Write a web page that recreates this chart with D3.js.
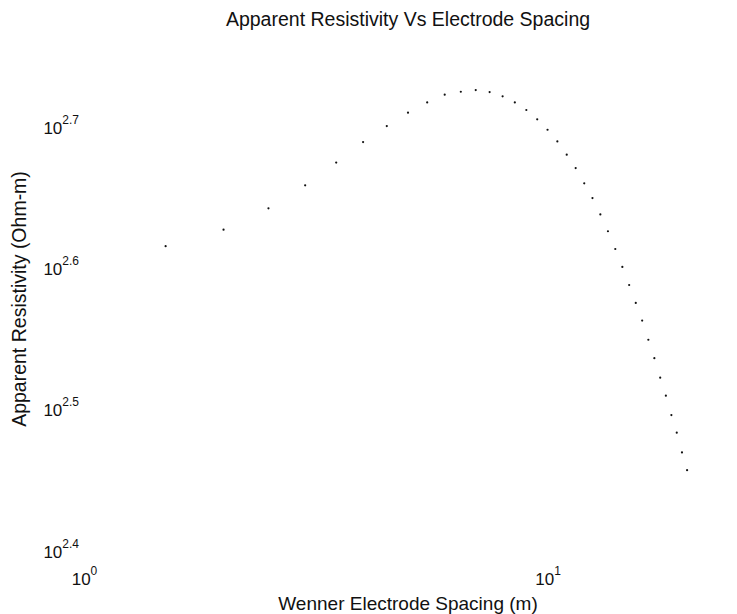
<!DOCTYPE html>
<html>
<head>
<meta charset="utf-8">
<script src="https://cdn.jsdelivr.net/npm/d3@7"></script>
<style>
  body { margin: 0; background: #fff; }
  text { font-family: "Liberation Sans", Arial, sans-serif; fill: #111; }
</style>
</head>
<body>
<div id="chart"></div>
<script>
// electrode spacing (m) and apparent resistivity (Ohm-m)
const spacing = [1.5, 2, 2.5, 3, 3.5, 4, 4.5, 5, 5.5, 6, 6.5, 7, 7.5, 8, 8.5, 9, 9.5, 10,
  10.5, 11, 11.5, 12, 12.5, 13, 13.5, 14, 14.5, 15, 15.5, 16, 16.5, 17, 17.5, 18, 18.5, 19, 19.5, 20];
const resistivity = [410.3, 421.5, 436.4, 453.1, 470.2, 486.2, 499.1, 510.1, 518.7, 525.3, 527.8,
  529.2, 527.5, 523.9, 518.7, 512.3, 504.6, 496.1, 486.7, 476.3, 466.0, 454.6, 443.8, 432.1,
  420.4, 408.4, 396.6, 385.1, 374.0, 363.4, 352.2, 341.8, 331.1, 321.5, 311.5, 302.7, 293.1, 284.7];
const xTickExp = [0, 1];
const yTickExp = [2.4, 2.5, 2.6, 2.7];
const xLimits = [1, 25];
const yLimits = [Math.pow(10, 2.4), Math.pow(10, 2.757)];

const width = 737, height = 614;
const margin = {top: 43, right: 5, bottom: 67, left: 84};

const svg = d3.select('#chart')
  .append('svg')
    .attr('width', width)
    .attr('height', height);

const x = d3.scaleLog()
  .domain(xLimits)
  .range([margin.left, width - margin.right]);

const y = d3.scaleLog()
  .domain(yLimits)
  .range([height - margin.bottom, margin.top]);

// tick labels as 10^n with superscript exponent
function powerLabel(sel, anchor) {
  sel.each(function(e) {
    const t = d3.select(this);
    t.text(null).attr('text-anchor', anchor);
    t.append('tspan').attr('font-size', 17).text('10');
    t.append('tspan')
      .attr('font-size', 12)
      .attr('dy', -10)
      .text(e);
  });
}

const xAxis = svg.append('g')
  .attr('transform', `translate(0,${height - margin.bottom})`)
  .call(d3.axisBottom(x)
    .tickValues(xTickExp.map(e => Math.pow(10, e)))
    .tickSize(0));
xAxis.select('.domain').remove();
xAxis.selectAll('.tick text')
  .data(xTickExp)
  .attr('y', 38)
  .attr('dy', null)
  .call(powerLabel, 'middle');

const yAxis = svg.append('g')
  .attr('transform', `translate(${margin.left},0)`)
  .call(d3.axisLeft(y)
    .tickValues(yTickExp.map(e => Math.pow(10, e)))
    .tickSize(0));
yAxis.select('.domain').remove();
yAxis.selectAll('.tick text')
  .data(yTickExp)
  .attr('x', -5)
  .attr('dy', 10)
  .call(powerLabel, 'end');

svg.selectAll('.dot')
  .data(spacing)
  .enter().append('circle')
    .attr('class', 'dot')
    .attr('cx', d => x(d))
    .attr('cy', (d, i) => y(resistivity[i]))
    .attr('r', 1.1)
    .attr('fill', '#111');

const midX = (margin.left + width - margin.right) / 2;
const midY = (margin.top + height - margin.bottom) / 2 + 4;

svg.append('text')
  .attr('x', midX)
  .attr('y', 26)
  .attr('text-anchor', 'middle')
  .attr('font-size', 19.5)
  .text('Apparent Resistivity Vs Electrode Spacing');

svg.append('text')
  .attr('x', midX)
  .attr('y', 610)
  .attr('text-anchor', 'middle')
  .attr('font-size', 19)
  .text('Wenner Electrode Spacing (m)');

svg.append('text')
  .attr('transform', `translate(26,${midY}) rotate(-90)`)
  .attr('text-anchor', 'middle')
  .attr('font-size', 19.5)
  .text('Apparent Resistivity (Ohm-m)');
</script>
</body>
</html>
